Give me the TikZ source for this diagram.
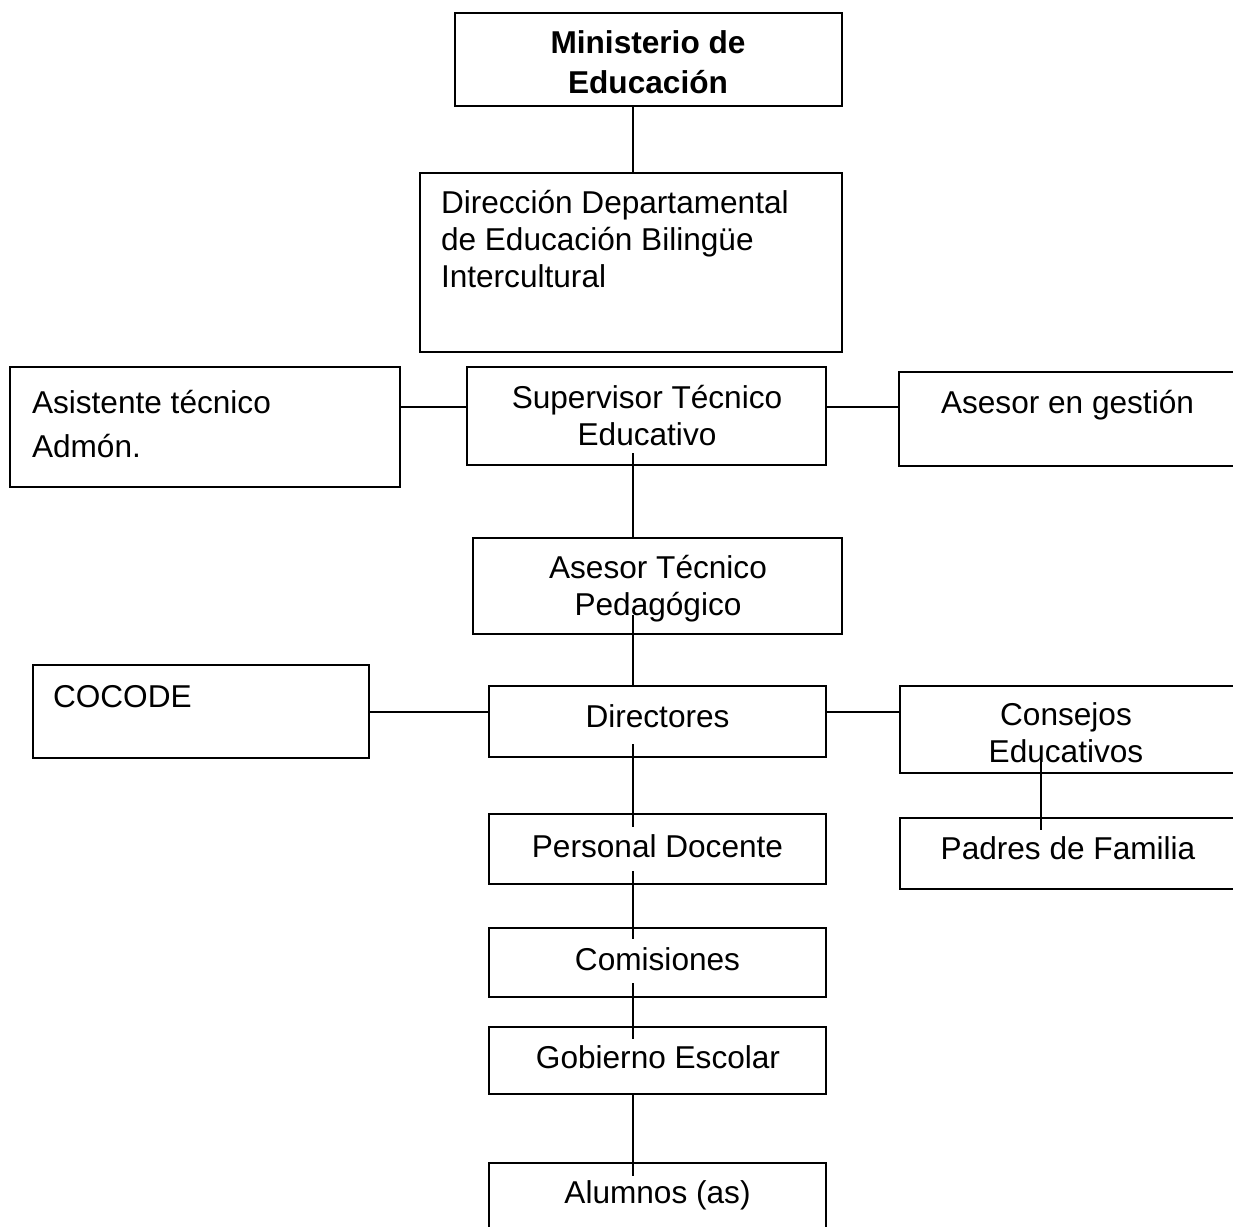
\documentclass[tikz,border=0pt]{standalone}
\usepackage{fontspec}
\setmainfont{Liberation Sans}
\begin{document}
\begin{tikzpicture}[x=1pt,y=-1pt,
  box/.style={draw=black, line width=2pt, rectangle, inner sep=0pt, outer sep=0pt, anchor=north west},
  txt/.style={inner sep=0pt, outer sep=0pt, font=\fontsize{31.6}{37}\selectfont},
  btxt/.style={txt, font=\fontsize{31.6}{37}\selectfont\bfseries},
  conn/.style={draw=black, line width=2pt}]
\useasboundingbox (0,0) rectangle (1233,1226);
\clip (0,0) rectangle (1233,1226);
\coordinate (sp) at (633,0);
\coordinate (cp) at (1041,0);
% boxes
\node[box, minimum width=387pt, minimum height=93pt] (min) at (455,13) {};
\node[box, minimum width=422pt, minimum height=179pt] (dir) at (420,173) {};
\node[box, minimum width=359pt, minimum height=98pt] (sup) at (467,367) {};
\node[box, minimum width=390pt, minimum height=120pt] (asi) at (10,367) {};
\node[box, minimum width=350pt, minimum height=94pt] (ges) at (899,372) {};
\node[box, minimum width=369pt, minimum height=96pt] (ase) at (473,538) {};
\node[box, minimum width=336pt, minimum height=93pt] (coc) at (33,665) {};
\node[box, minimum width=337pt, minimum height=71pt] (dirs) at (489,686) {};
\node[box, minimum width=350pt, minimum height=87pt] (con) at (900,686) {};
\node[box, minimum width=337pt, minimum height=70pt] (pd) at (489,814) {};
\node[box, minimum width=350pt, minimum height=71pt] (pad) at (900,818) {};
\node[box, minimum width=337pt, minimum height=69pt] (com) at (489,928) {};
\node[box, minimum width=337pt, minimum height=67pt] (gob) at (489,1027) {};
\node[box, minimum width=337pt, minimum height=80pt] (alu) at (489,1163) {};
% texts
\node[btxt, anchor=base] (min1) at (648,53) {Ministerio de};
\node[btxt, anchor=base] (min2) at (648,93) {Educación};
\node[txt, anchor=base west] (dir1) at (441,213) {Dirección Departamental};
\node[txt, anchor=base west] (dir2) at (441,250) {de Educación Bilingüe};
\node[txt, anchor=base west] (dir3) at (441,287) {Intercultural};
\node[txt, anchor=base] (sup1) at (647,408) {Supervisor Técnico};
\node[txt, anchor=base] (sup2) at (647,445) {Educativo};
\node[txt, anchor=base west] (asi1) at (32,413) {Asistente técnico};
\node[txt, anchor=base west] (asi2) at (32,457) {Admón.};
\node[txt, anchor=base west] (ges1) at (941,413) {Asesor en gestión};
\node[txt, anchor=base] (ase1) at (658,578) {Asesor Técnico};
\node[txt, anchor=base] (ase2) at (658,615) {Pedagógico};
\node[txt, anchor=base west] (coc1) at (53,707) {COCODE};
\node[txt, anchor=base] (dirs1) at (657.5,727) {Directores};
\node[txt, anchor=base] (con1) at (1066,725) {Consejos};
\node[txt, anchor=base] (con2) at (1066,762) {Educativos};
\node[txt, anchor=base] (pd1) at (657.5,857) {Personal Docente};
\node[txt, anchor=base] (pad1) at (1068,859) {Padres de Familia};
\node[txt, anchor=base] (com1) at (657.5,970) {Comisiones};
\node[txt, anchor=base] (gob1) at (658,1068) {Gobierno Escolar};
\node[txt, anchor=base] (alu1) at (657.5,1203) {Alumnos (as)};
% connectors
\draw[conn] (min.south -| sp) -- (dir.north -| sp);
\draw[conn] ([yshift=12pt]sup.south -| sp) -- (ase.north -| sp);
\draw[conn] ([yshift=19pt]ase.south -| sp) -- (dirs.north -| sp);
\draw[conn] ([yshift=13pt]dirs.south -| sp) -- ([yshift=-13pt]pd.north -| sp);
\draw[conn] ([yshift=13pt]pd.south -| sp) -- ([yshift=-11pt]com.north -| sp);
\draw[conn] ([yshift=14pt]com.south -| sp) -- ([yshift=-12pt]gob.north -| sp);
\draw[conn] (gob.south -| sp) -- ([yshift=-13pt]alu.north -| sp);
\draw[conn] ([yshift=-40pt]asi.north east) -- ([yshift=-40pt]sup.north west);
\draw[conn] ([yshift=-40pt]sup.north east) -- ([yshift=-35pt]ges.north west);
\draw[conn] ([yshift=-47pt]coc.north east) -- ([yshift=-26pt]dirs.north west);
\draw[conn] ([yshift=-26pt]dirs.north east) -- ([yshift=-26pt]con.north west);
\draw[conn] ([yshift=11pt]con.south -| cp) -- ([yshift=-12pt]pad.north -| cp);
\end{tikzpicture}
\end{document}
